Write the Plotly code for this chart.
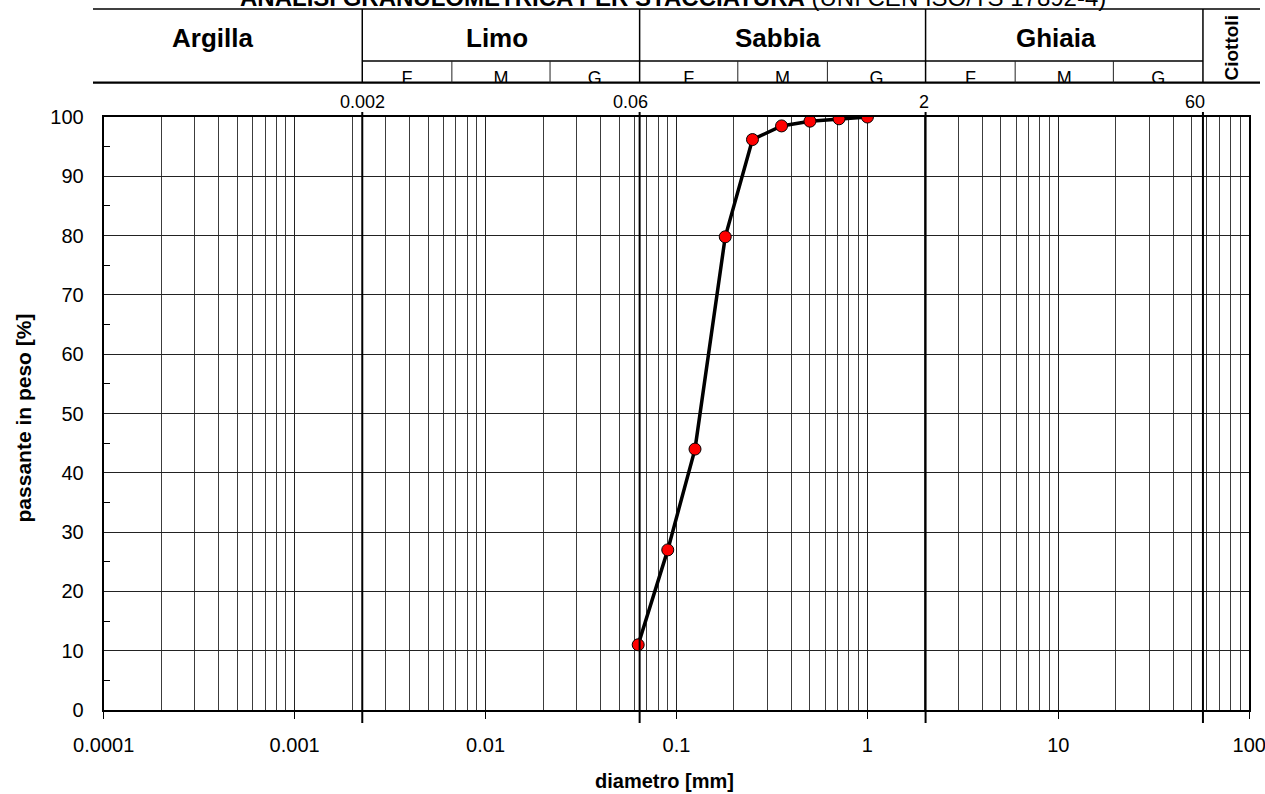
import numpy as np
import plotly.graph_objects as go

# Risultati della setacciatura
diametro_mm = [0.063, 0.09, 0.125, 0.18, 0.25, 0.355, 0.5, 0.71, 1.0]
passante_pct = [11.0, 27.0, 44.0, 79.8, 96.2, 98.5, 99.3, 99.7, 100.0]

# Etichette degli assi
x_tickvals = [0.0001, 0.001, 0.01, 0.1, 1, 10, 100]
x_ticktext = ["0.0001", "0.001", "0.01", "0.1", "1", "10", "100"]
y_tickvals = [0, 10, 20, 30, 40, 50, 60, 70, 80, 90, 100]

# Classi granulometriche e relativi limiti [mm]
classi = ["Argilla", "Limo", "Sabbia", "Ghiaia"]
limiti_classi = [0.002, 0.06, 2, 60]
limiti_etichette = ["0.002", "0.06", "2", "60"]
sottoclassi = ["F", "M", "G"]
limiti_sottoclassi = [0.006, 0.02, 0.2, 0.6, 6, 20]
classe_ciottoli = "Ciottoli"

titolo = "<b>ANALISI GRANULOMETRICA PER STACCIATURA</b> (UNI CEN ISO/TS 17892-4)"
titolo_x = "diametro [mm]"
titolo_y = "passante in peso [%]"

FONT = "Liberation Sans, Arial, Helvetica, sans-serif"
HEADER_LOG_RANGE = [-4.133, 2.082]   # scala della tabella delle classi
SUB_ROW = 0.2944                      # altezza riga F/M/G nella tabella

# linee di griglia secondarie (2..9 per ogni decade)
minor_x = [k * 10.0 ** e for e in range(-4, 2) for k in range(2, 10)]
minor_y = [v + 5 for v in y_tickvals[:-1]]

fig = go.Figure()

# curva granulometrica
fig.add_trace(go.Scatter(
    x=diametro_mm, y=passante_pct, mode="lines+markers",
    line=dict(color="black", width=3.5),
    marker=dict(size=12, color="#ff0000", line=dict(color="black", width=1)),
    xaxis="x", yaxis="y", hoverinfo="x+y",
))

# lettere F / M / G nella tabella (tagliate dal bordo inferiore della tabella)
sub_x, sub_t = [], []
for i in range(3):
    edges = [limiti_classi[i], limiti_sottoclassi[2 * i], limiti_sottoclassi[2 * i + 1], limiti_classi[i + 1]]
    for j in range(3):
        sub_x.append(float(np.sqrt(edges[j] * edges[j + 1])))
        sub_t.append(sottoclassi[j])
fig.add_trace(go.Scatter(
    x=sub_x, y=[0.046] * len(sub_x), mode="text", text=sub_t,
    textposition="middle center",
    textfont=dict(family=FONT, size=18, color="black"),
    xaxis="x2", yaxis="y2", hoverinfo="skip", cliponaxis=True,
))

line_main = dict(color="black", width=1.5)

# tabella delle classi: bordi orizzontali
fig.add_shape(type="line", xref="x2 domain", yref="y2 domain", x0=0, x1=1, y0=1, y1=1, line=line_main)
fig.add_shape(type="line", xref="x2 domain", yref="y2 domain", x0=0, x1=1, y0=0, y1=0,
              line=dict(color="black", width=2.2))
fig.add_shape(type="line", xref="x2", yref="y2 domain", x0=limiti_classi[0], x1=limiti_classi[-1],
              y0=SUB_ROW, y1=SUB_ROW, line=line_main)
# separatori delle classi e delle sottoclassi
for v in limiti_classi:
    fig.add_shape(type="line", xref="x2", yref="y2 domain", x0=v, x1=v, y0=0, y1=1, line=line_main)
for v in limiti_sottoclassi:
    fig.add_shape(type="line", xref="x2", yref="y2 domain", x0=v, x1=v, y0=0, y1=SUB_ROW,
                  line=dict(color="#222", width=1))
# limiti delle classi riportati nel grafico
for v in limiti_classi:
    fig.add_shape(type="line", xref="x2", yref="y domain", x0=v, x1=v, y0=-0.022, y1=1.0084,
                  line=dict(color="black", width=2))

annotations = []
# nomi delle classi
bordi = [10 ** HEADER_LOG_RANGE[0]] + limiti_classi
spost = [-15, -4, -5, -8]
for i, nome in enumerate(classi):
    xc = (np.log10(bordi[i]) + np.log10(bordi[i + 1])) / 2
    annotations.append(dict(
        x=float(xc), y=0.6, xref="x2", yref="y2 domain", text=f"<b>{nome}</b>",
        showarrow=False, xanchor="center", yanchor="middle", xshift=spost[i],
        font=dict(family=FONT, size=26, color="black"),
    ))
annotations.append(dict(
    x=float((np.log10(limiti_classi[-1]) + HEADER_LOG_RANGE[1]) / 2), y=0.47,
    xref="x2", yref="y2 domain", text=f"<b>{classe_ciottoli}</b>", textangle=-90,
    showarrow=False, xanchor="center", yanchor="middle",
    font=dict(family=FONT, size=19, color="black"),
))
# valori dei limiti sopra il grafico
shift_lim = [0, -9, -2, -8]
for v, t, s in zip(limiti_classi, limiti_etichette, shift_lim):
    annotations.append(dict(
        x=float(np.log10(v)), y=0.8678, xref="x2", yref="paper", text=t,
        showarrow=False, xanchor="center", yanchor="middle", xshift=s,
        font=dict(family=FONT, size=18, color="black"),
    ))
# titoli
annotations.append(dict(
    x=0.4966, y=1.0171, xref="paper", yref="paper", text=titolo, showarrow=False,
    xanchor="center", yanchor="middle", font=dict(family=FONT, size=24, color="black"),
))
annotations.append(dict(
    x=0.4901, y=-0.1013, xref="paper", yref="paper", text=f"<b>{titolo_x}</b>", showarrow=False,
    xanchor="center", yanchor="middle", font=dict(family=FONT, size=20, color="black"),
))
annotations.append(dict(
    x=-0.0596, y=0.4165, xref="paper", yref="paper", text=f"<b>{titolo_y}</b>", showarrow=False,
    textangle=-90, xanchor="center", yanchor="middle", font=dict(family=FONT, size=21, color="black"),
))

fig.update_layout(
    width=1265, height=794,
    margin=dict(l=93, r=5, t=9, b=84),
    paper_bgcolor="white", plot_bgcolor="white",
    showlegend=False,
    annotations=annotations,
    xaxis=dict(
        type="log", range=[-4, 2], domain=[0.009169, 0.990831], anchor="y",
        tickmode="array", tickvals=x_tickvals, ticktext=x_ticktext,
        ticks="outside", ticklen=7, tickwidth=1, tickcolor="black",
        showgrid=True, gridcolor="#222", gridwidth=1,
        minor=dict(tickmode="array", tickvals=minor_x, showgrid=True, gridcolor="#3c3c3c",
                   gridwidth=1, ticks=""),
        showline=True, linecolor="black", linewidth=2, mirror=True, zeroline=False,
        tickfont=dict(family=FONT, size=20, color="black"), ticklabelstandoff=9,
        ticklabeloverflow="allow", automargin=False,
    ),
    yaxis=dict(
        range=[0, 100], domain=[0, 0.8459], anchor="x",
        tickmode="array", tickvals=y_tickvals, ticks="",
        showgrid=True, gridcolor="#222", gridwidth=1,
        minor=dict(tickmode="array", tickvals=minor_y, ticks="inside", ticklen=6,
                   tickwidth=1, tickcolor="black", showgrid=False),
        showline=True, linecolor="black", linewidth=2, mirror=True, zeroline=False,
        tickfont=dict(family=FONT, size=20, color="black"), ticklabelstandoff=14,
        automargin=False,
    ),
    xaxis2=dict(type="log", range=HEADER_LOG_RANGE, domain=[0, 1], anchor="y2",
                visible=False, automargin=False),
    yaxis2=dict(range=[0, 1], domain=[0.8949, 1], anchor="x2", visible=False, automargin=False),
)

fig.write_html("out.html")
